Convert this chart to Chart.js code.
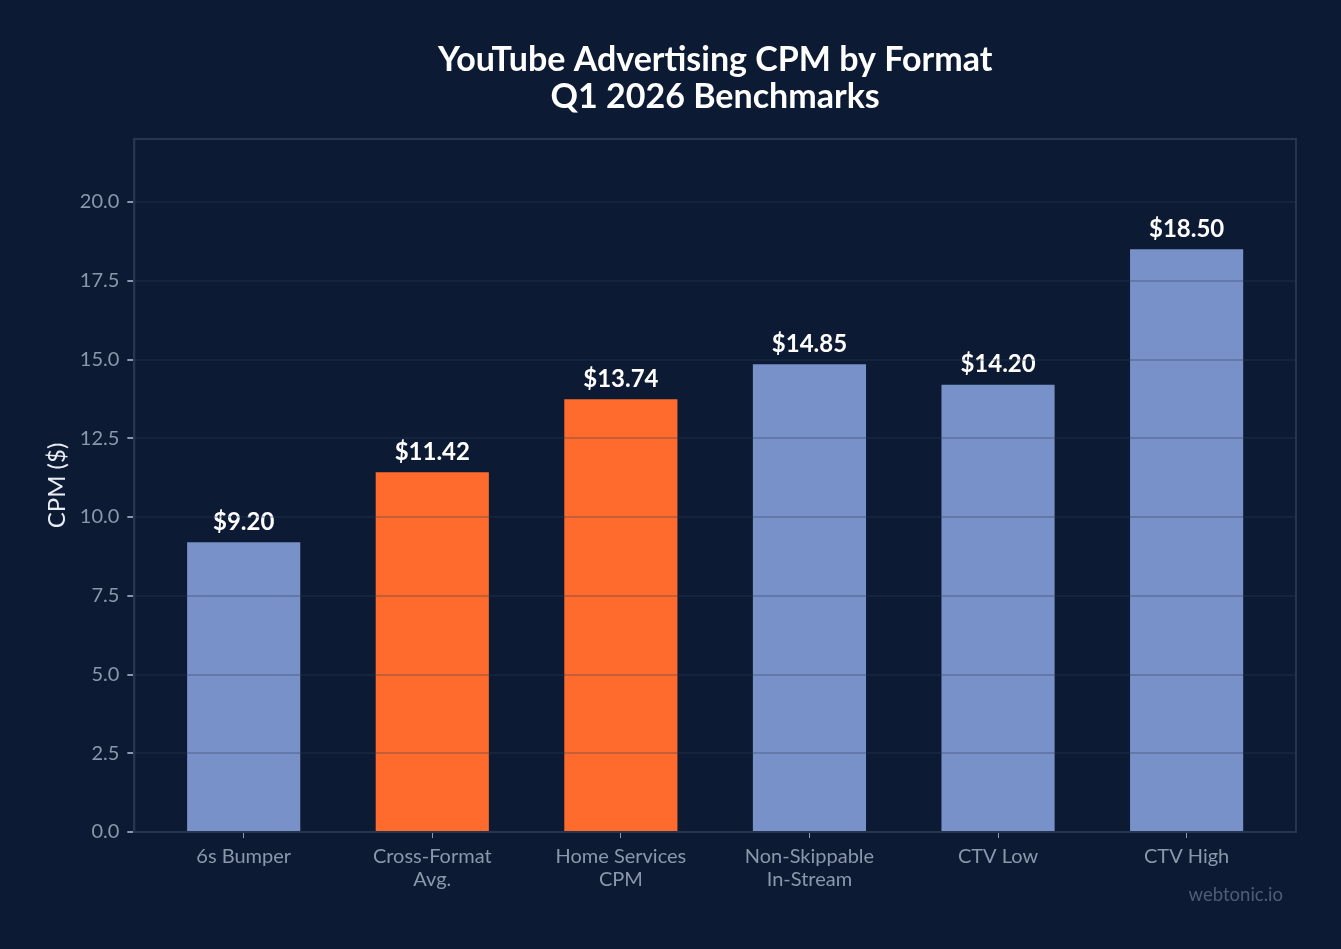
<!DOCTYPE html>
<html>
<head>
<meta charset="utf-8">
<script src="https://cdn.jsdelivr.net/npm/chart.js@4"></script>
<style>
    html, body { margin: 0; padding: 0; background: #0c1b33; }
    #wrap { width: 1341px; height: 949px; }
</style>
</head>
<body>
<div id="wrap"><canvas id="cpmChart"></canvas></div>
<script>
const formats = [
    '6s Bumper',
    ['Cross-Format', 'Avg.'],
    ['Home Services', 'CPM'],
    ['Non-Skippable', 'In-Stream'],
    'CTV Low',
    'CTV High'
]
const cpmValues = [9.20, 11.42, 13.74, 14.85, 14.20, 18.50]
const highlighted = [false, true, true, false, false, false]
const titleLines = ['YouTube Advertising CPM by Format', 'Q1 2026 Benchmarks']

const blue = '#7891c8'
const orange = '#ff6b2c'
const tickGray = '#8b97ab'
const frameColor = '#27364f'

// value labels above each bar
const valueLabels = {
    id: 'valueLabels',
    afterDatasetsDraw(chart) {
        const ctx = chart.ctx
        const meta = chart.getDatasetMeta(0)
        ctx.save()
        ctx.font = 'bold 24px Lato'
        ctx.fillStyle = '#ffffff'
        ctx.textAlign = 'center'
        ctx.textBaseline = 'bottom'
        meta.data.forEach((bar, i) => {
            ctx.fillText('$' + cpmValues[i].toFixed(2), bar.x, bar.y - 8)
        })
        ctx.restore()
    }
}

// title centred on the plot, box around the plot area, watermark
const frame = {
    id: 'frame',
    afterDraw(chart) {
        const { ctx, chartArea: a } = chart
        ctx.save()
        ctx.strokeStyle = frameColor
        ctx.lineWidth = 2
        ctx.strokeRect(a.left, a.top, a.right - a.left, a.bottom - a.top)

        ctx.font = 'bold 34px Lato'
        ctx.fillStyle = '#ffffff'
        ctx.textAlign = 'center'
        ctx.textBaseline = 'middle'
        const cx = (a.left + a.right) / 2
        ctx.fillText(titleLines[0], cx, 60)
        ctx.fillText(titleLines[1], cx, 97)

        ctx.font = '18.5px Lato'
        ctx.fillStyle = '#4f5d75'
        ctx.textAlign = 'right'
        ctx.fillText('webtonic.io', a.right - 13, 895)
        ctx.restore()
    }
}

new Chart(document.getElementById('cpmChart'), {
    type: 'bar',
    data: {
        datasets: [{
            data: cpmValues.map((v, i) => ({ x: i, y: v })),
            backgroundColor: highlighted.map(h => h ? orange : blue),
            borderWidth: 0,
            categoryPercentage: 1,
            barPercentage: 0.6
        }]
    },
    plugins: [valueLabels, frame],
    options: {
        responsive: true,
        maintainAspectRatio: false,
        animation: false,
        layout: { padding: { left: 43, right: 45, top: 139, bottom: 51 } },
        plugins: {
            legend: { display: false },
            tooltip: { enabled: false }
        },
        scales: {
            x: {
                type: 'linear',
                offset: false,
                min: -0.58,
                max: formats.length - 0.42,
                afterBuildTicks: scale => {
                    scale.ticks = formats.map((f, i) => ({ value: i }))
                },
                grid: {
                    offset: false,
                    drawOnChartArea: false,
                    drawTicks: true,
                    tickLength: 6,
                    tickColor: tickGray
                },
                border: { color: frameColor, width: 2 },
                ticks: {
                    color: tickGray,
                    font: { family: 'Lato', size: 20, lineHeight: 1.15 },
                    padding: 7,
                    maxRotation: 0,
                    autoSkip: false,
                    callback: v => formats[v]
                }
            },
            y: {
                min: 0,
                max: 22,
                afterBuildTicks: scale => {
                    scale.ticks = scale.ticks.filter(t => t.value <= 20)
                },
                grid: {
                    z: 1,
                    color: 'rgba(45, 60, 90, 0.28)',
                    lineWidth: 2,
                    tickColor: tickGray,
                    tickLength: 7
                },
                border: { color: frameColor, width: 2, z: 2 },
                ticks: {
                    stepSize: 2.5,
                    color: tickGray,
                    font: { family: 'Lato', size: 20 },
                    padding: 8,
                    callback: v => v.toFixed(1)
                },
                title: {
                    display: true,
                    text: 'CPM ($)',
                    color: '#e8ecf3',
                    font: { family: 'Lato', size: 24 },
                    padding: { top: 0, bottom: 0 }
                }
            }
        }
    }
})
</script>
</body>
</html>
